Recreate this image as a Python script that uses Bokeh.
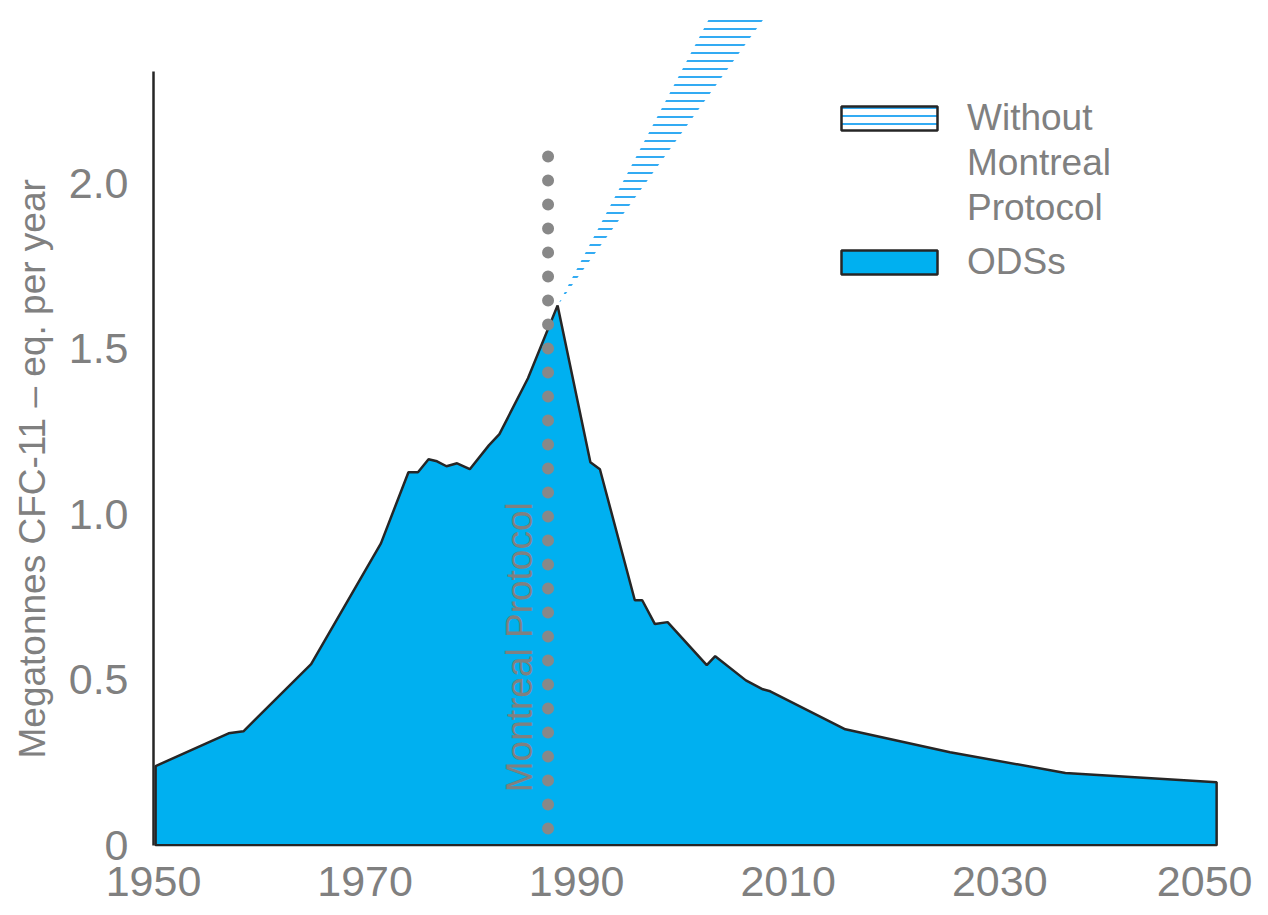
import numpy as np
from bokeh.plotting import figure
from bokeh.models import (Range1d, FixedTicker, Legend, LegendItem, Label, Title,
                          ColumnDataSource)
from bokeh.embed import file_html
from bokeh.resources import INLINE

# ---- data ----
years = [1950.2, 1957.1, 1958.5, 1964.9, 1971.5, 1974.1, 1975.0, 1976.0, 1976.8, 1977.7,
         1978.7, 1979.9, 1981.7, 1982.7, 1985.4, 1988.2, 1991.3, 1992.2, 1995.5, 1996.2,
         1997.4, 1998.6, 2002.3, 2003.1, 2006.0, 2007.6, 2008.3, 2015.4, 2025.3, 2036.2,
         2050.5]
ods = [0.239, 0.338, 0.344, 0.547, 0.912, 1.127, 1.127, 1.166, 1.160, 1.145,
       1.154, 1.136, 1.208, 1.242, 1.411, 1.631, 1.157, 1.136, 0.740, 0.740,
       0.668, 0.674, 0.544, 0.571, 0.498, 0.471, 0.465, 0.350, 0.281, 0.218,
       0.190]

hatch_years = [1988.2, 2010.0]
hatch_low = [1.631, 2.60]
hatch_high = [1.631, 2.95]

montreal_year = 1987.3
montreal_line_y = [2.081, 0.035]

x_ticks = [1950, 1970, 1990, 2010, 2030, 2050]
y_ticks = [0, 0.5, 1.0, 1.5, 2.0]
y_tick_labels = ["0", "0.5", "1.0", "1.5", "2.0"]

without_label_lines = ["Without", "Montreal", "Protocol"]
ods_label = "ODSs"
y_title = "Megatonnes CFC-11 \u2013 eq. per year"
annotation_text = "Montreal Protocol"

# ---- style ----
FONT = "Liberation Sans"
GRAY = "#808080"
DARK = "#262626"
BLUE = "#00b0f0"
HATCH = "#0096f0"

p = figure(frame_width=1079, frame_height=832,
           x_range=Range1d(1950, 2052), y_range=Range1d(-0.004, 2.51),
           output_backend="svg", toolbar_location=None,
           min_border_left=153, min_border_top=14, min_border_bottom=68,
           min_border_right=20)
p.outline_line_color = None
p.xgrid.visible = False
p.ygrid.visible = False
p.background_fill_color = "white"

# ODS area
ods_src = ColumnDataSource(dict(
    x=[years[0]] + years + [years[-1]],
    y=[0] + ods + [0]))
ods_r = p.patch(x="x", y="y", source=ods_src, fill_color=BLUE, line_color=DARK,
                line_width=2.5)

# Without Montreal Protocol hatched band
h_src = ColumnDataSource(dict(x=hatch_years, y1=hatch_low, y2=hatch_high))
p.varea(x="x", y1="y1", y2="y2", source=h_src, fill_alpha=0,
        hatch_pattern="horizontal_line", hatch_color=HATCH, hatch_scale=8,
        hatch_weight=1.6)
leg_src = ColumnDataSource(dict(x=hatch_years + hatch_years[::-1],
                                y=hatch_low + hatch_high[::-1]))
leg_r = p.patch(x="x", y="y", source=leg_src, fill_color="white", line_color=DARK,
                line_width=2.5, hatch_pattern="horizontal_line", hatch_color=HATCH,
                hatch_scale=8, hatch_weight=1.6, visible=False)

# Montreal Protocol dotted line
p.line(x=[montreal_year, montreal_year], y=montreal_line_y, line_color="#888888",
       line_width=12, line_dash="0 24", line_cap="round")

p.add_layout(Label(x=1984.6, y=0.16, text=annotation_text, angle=np.pi / 2,
                   text_font=FONT, text_font_size="37px", text_color=GRAY,
                   text_align="left", text_baseline="alphabetic"))

# y title in the left side panel
p.add_layout(Title(text=y_title, align="left", offset=88, vertical_align="top",
                   text_font=FONT, text_font_size="37px", text_font_style="normal",
                   text_color=GRAY, standoff=22), "left")

# axes
ya = p.yaxis[0]
ya.ticker = FixedTicker(ticks=y_ticks)
ya.major_label_overrides = {t: l for t, l in zip(y_ticks, y_tick_labels)}
ya.bounds = (0, 2.338)
ya.axis_line_color = DARK
ya.axis_line_width = 2.5
ya.major_tick_out = 0
ya.major_tick_in = 0
ya.minor_tick_out = 0
ya.minor_tick_in = 0
ya.major_label_text_font = FONT
ya.major_label_text_font_size = "43px"
ya.major_label_text_color = GRAY
ya.major_label_standoff = 25

xa = p.xaxis[0]
xa.ticker = FixedTicker(ticks=x_ticks)
xa.axis_line_color = None
xa.major_tick_out = 0
xa.major_tick_in = 0
xa.minor_tick_out = 0
xa.minor_tick_in = 0
xa.major_label_text_font = FONT
xa.major_label_text_font_size = "43px"
xa.major_label_text_color = GRAY
xa.major_label_standoff = 20

leg_style = dict(padding=0, margin=0, spacing=3, glyph_width=120, glyph_height=30,
                 label_standoff=18, label_text_font=FONT, label_text_font_size="37px",
                 label_text_color=GRAY, border_line_alpha=0, background_fill_alpha=0)

legend1 = Legend(items=[LegendItem(label=without_label_lines[0], renderers=[leg_r]),
                        LegendItem(label=without_label_lines[1], renderers=[]),
                        LegendItem(label=without_label_lines[2], renderers=[])],
                 location=(676, 617), **leg_style)
legend2 = Legend(items=[LegendItem(label=ods_label, renderers=[ods_r])],
                 location=(676, 563), **leg_style)
p.add_layout(legend1)
p.add_layout(legend2)

open("out.html", "w").write(file_html(p, INLINE))
